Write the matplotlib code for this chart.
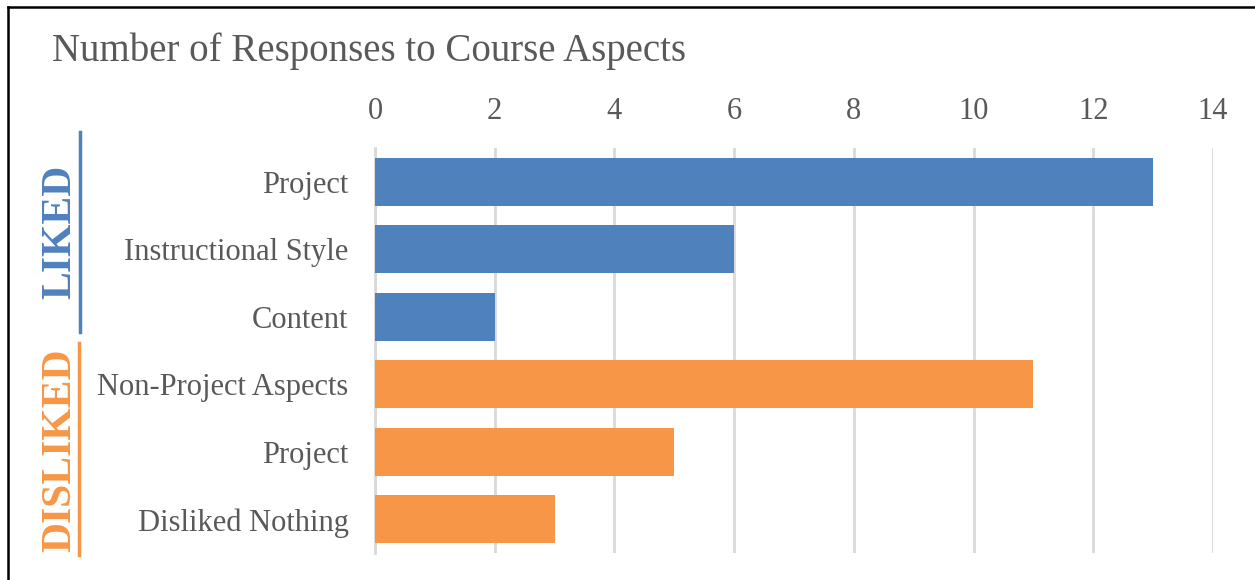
import numpy as np
import matplotlib
matplotlib.use("Agg")
import matplotlib.pyplot as plt
from matplotlib.lines import Line2D

# data
liked_labels = ["Project", "Instructional Style", "Content"]
liked_values = [13, 6, 2]
disliked_labels = ["Non-Project Aspects", "Project", "Disliked Nothing"]
disliked_values = [11, 5, 3]
x_ticks = [0, 2, 4, 6, 8, 10, 12, 14]

BLUE = "#4F81BD"
ORANGE = "#F79646"
GREY = "#595959"
SERIF = ["Liberation Serif", "DejaVu Serif"]

plt.rcParams["font.family"] = SERIF

fig = plt.figure(figsize=(12.55, 5.8), dpi=100)
ax = fig.add_axes([375 / 1255, 1 - 553 / 580, (1213 - 375) / 1255, (553 - 148) / 580])

labels = liked_labels + disliked_labels
values = liked_values + disliked_values
colors = [BLUE] * len(liked_values) + [ORANGE] * len(disliked_values)
y = np.arange(len(labels))

ax.barh(y, values, height=0.71, color=colors, zorder=3)
ax.set_ylim(len(labels) - 0.5, -0.5)
ax.set_xlim(0, 14)
ax.set_xticks(x_ticks)
ax.set_yticks(y)
ax.set_yticklabels(labels)
ax.xaxis.tick_top()
ax.tick_params(axis="x", length=0, pad=16, labelsize=22, labelcolor=GREY)
ax.tick_params(axis="y", length=0, pad=19, labelsize=22, labelcolor=GREY)
ax.grid(axis="x", color="#D9D9D9", linewidth=2, zorder=0)
for s in ["top", "right", "bottom"]:
    ax.spines[s].set_visible(False)
ax.spines["left"].set_color("#D9D9D9")
ax.spines["left"].set_linewidth(2)

fig.text(52 / 1255, 1 - 51 / 580, "Number of Responses to Course Aspects",
         fontsize=28, color=GREY, ha="left", va="center")

# group labels
fig.text(60 / 1255, 1 - 232 / 580, "LIKED", rotation=90, fontsize=30,
         fontweight="bold", color=BLUE, ha="center", va="center")
fig.text(60 / 1255, 1 - 450 / 580, "DISLIKED", rotation=90, fontsize=30,
         fontweight="bold", color=ORANGE, ha="center", va="center")
fig.add_artist(Line2D([80 / 1255, 80 / 1255], [1 - 132 / 580, 1 - 332 / 580],
                      color=BLUE, linewidth=2.5))
fig.add_artist(Line2D([79 / 1255, 79 / 1255], [1 - 343 / 580, 1 - 555 / 580],
                      color=ORANGE, linewidth=2.5))

# outer frame (left and top edges)
fig.add_artist(Line2D([8 / 1255, 8 / 1255], [0, 1 - 7 / 580], color="black", linewidth=1.8))
fig.add_artist(Line2D([8 / 1255, 1], [1 - 7 / 580, 1 - 7 / 580], color="black", linewidth=1.8))

fig.savefig("out.png", dpi=100)
